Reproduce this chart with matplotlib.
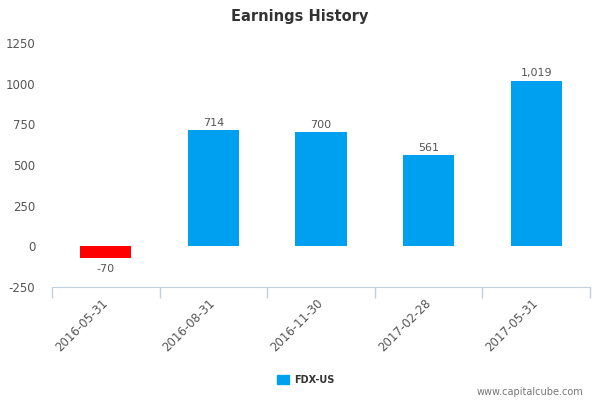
import numpy as np
import matplotlib.pyplot as plt
from matplotlib.patches import Patch

plt.rcParams['axes.unicode_minus'] = False

dates = ['2016-05-31', '2016-08-31', '2016-11-30', '2017-02-28', '2017-05-31']
earnings = [-70, 714, 700, 561, 1019]
labels = ['-70', '714', '700', '561', '1,019']

fig = plt.figure(figsize=(6, 4), dpi=100)
ax = fig.add_axes([0.0867, 0.2825, 0.8966, 0.61])

x = np.arange(len(dates))
colors = ['#ff0000' if v < 0 else '#00a0f0' for v in earnings]
ax.bar(x, earnings, width=0.475, color=colors)

for xi, v, lab in zip(x, earnings, labels):
    if v < 0:
        ax.text(xi, v - 40, lab, ha='center', va='top', fontsize=8, color='#555555')
    else:
        ax.text(xi, v + 15, lab, ha='center', va='bottom', fontsize=8, color='#555555')

ax.set_xlim(-0.5, len(dates) - 0.5)
ax.set_ylim(-250, 1250)
ax.set_yticks([-250, 0, 250, 500, 750, 1000, 1250])
ax.set_xticks(x)
ax.set_xticklabels(dates, rotation=45, ha='right', va='center', rotation_mode='anchor',
                   fontsize=8.5, color='#555555')
ax.set_xticks(np.arange(-0.5, len(dates)), minor=True)
ax.tick_params(axis='x', which='major', length=0, pad=10)
ax.tick_params(axis='x', which='minor', length=8, color='#c0d0e0', width=1)
ax.tick_params(axis='y', length=0, labelsize=8.5, labelcolor='#555555', pad=12)

for s in ['top', 'right', 'left']:
    ax.spines[s].set_visible(False)
ax.spines['bottom'].set_color('#c0d0e0')

fig.text(0.5, 0.96, 'Earnings History', ha='center', va='center', fontsize=10.5, fontweight='bold', color='#333333')

handle = Patch(color='#00a0f0', label='FDX-US')
leg = fig.legend(handles=[handle], loc='center', bbox_to_anchor=(0.51, 0.05), frameon=False,
                 fontsize=7, handlelength=1.2, handleheight=1.0, handletextpad=0.6)
for t in leg.get_texts():
    t.set_fontweight('bold')
    t.set_color('#333333')

fig.text(0.973, 0.02, 'www.capitalcube.com', ha='right', va='center', fontsize=7, color='#777777')

fig.savefig('out.png', dpi=100)
